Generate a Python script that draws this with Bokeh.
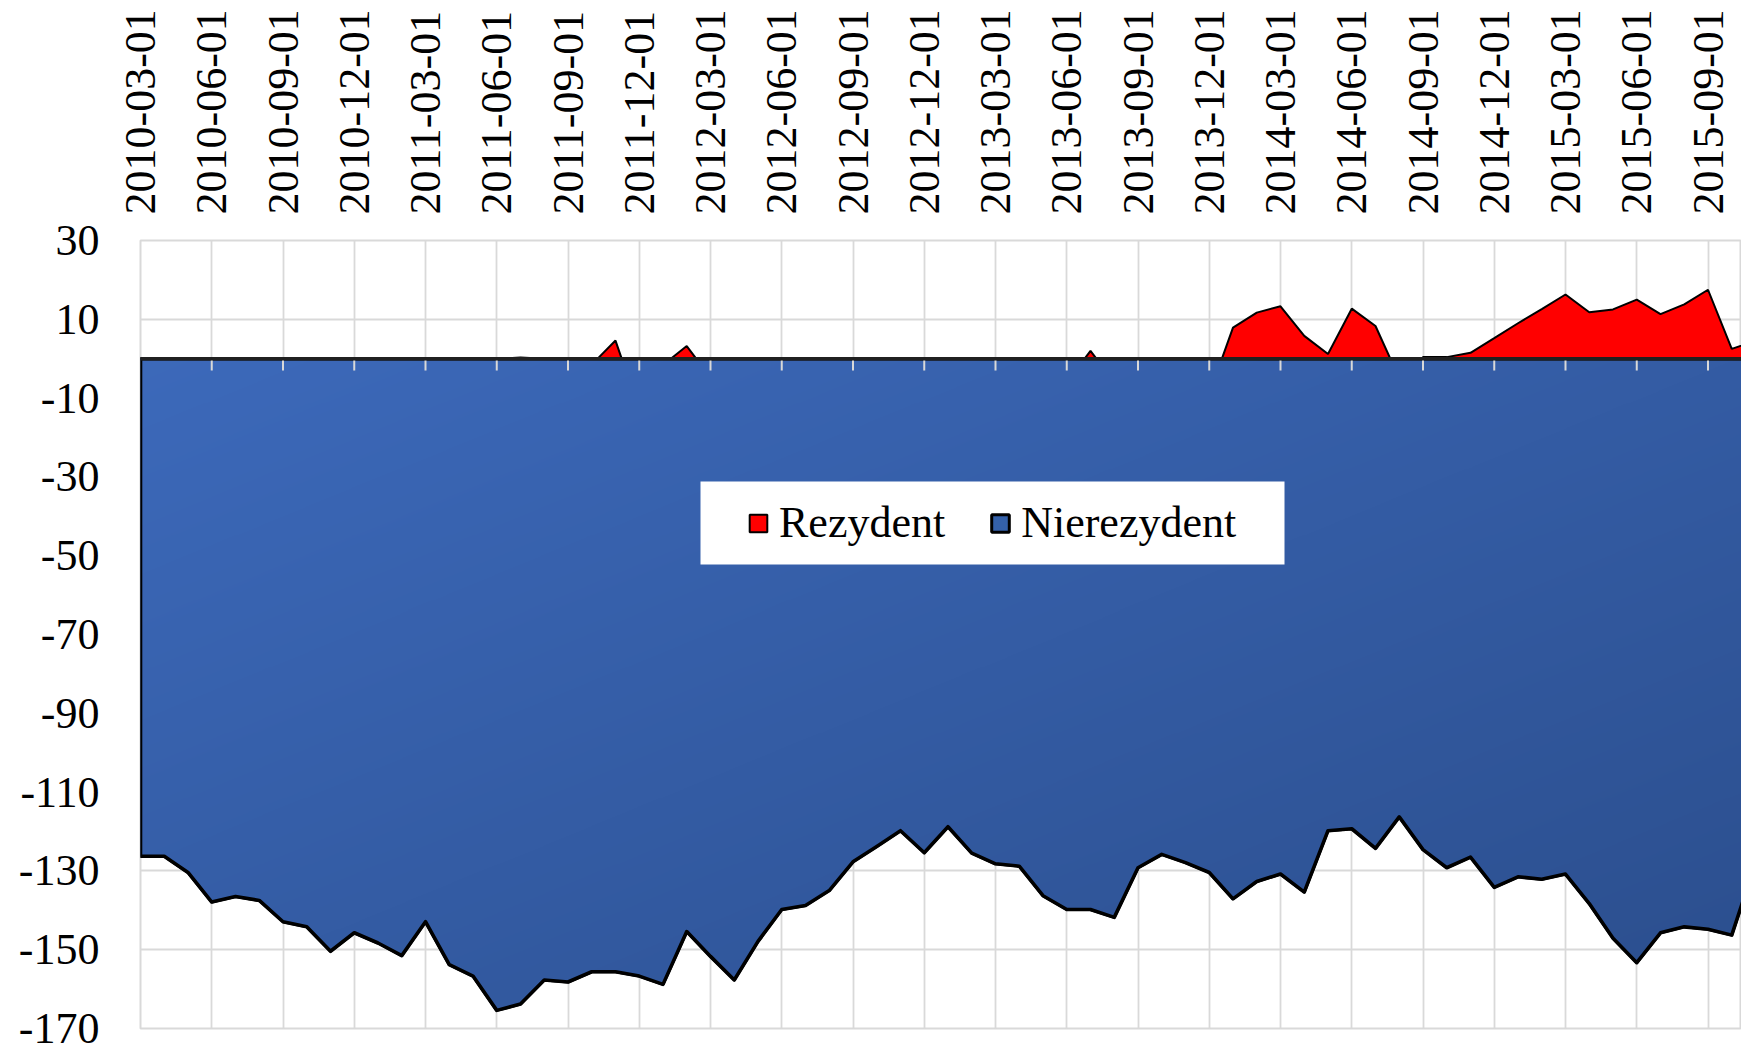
import numpy as np
import pandas as pd
from bokeh.plotting import figure
from bokeh.models import FixedTicker, Legend, LegendItem, Span, Range1d, BoxAnnotation
from bokeh.embed import file_html
from bokeh.resources import INLINE

# ---------------- data ----------------
months = list(pd.date_range("2010-03-01", periods=69, freq="MS").strftime("%Y-%m-%d"))

rezydent = [0, 0, 0, 0, 0, 0, 0, 0, 0, 0,
            0, 0, 0, 0, 0, 0, 0.3, 0, 0, -1.5,
            4.6, -13, -1.6, 3.2, -4.8, 0, 0, 0, 0, 0,
            0, 0, 0, 0, 0, 0, 0, 0, 0, -6,
            2.0, -6, 0, 0, 0, -9, 7.9, 11.7, 13.3, 5.8,
            1.2, 12.7, 8.3, -5, 0.4, 0.4, 1.5, 5.2, 9.0, 12.6,
            16.3, 11.8, 12.5, 15.0, 11.3, 13.8, 17.5, 2.5, 4.5]

nierezydent = [-126.3, -126.3, -130.4, -137.9, -136.5, -137.5, -142.9, -144.2, -150.4, -145.7,
               -148.3, -151.5, -142.9, -153.8, -156.7, -165.4, -163.8, -157.7, -158.2, -155.6,
               -155.6, -156.7, -158.8, -145.4, -151.7, -157.7, -147.9, -139.8, -138.8, -135.0,
               -127.7, -123.8, -119.8, -125.4, -118.8, -125.5, -128.2, -128.8, -136.3, -139.8,
               -139.8, -141.8, -129.2, -125.8, -127.9, -130.4, -137.1, -132.7, -130.8, -135.4,
               -119.8, -119.3, -124.3, -116.3, -124.6, -129.2, -126.5, -134.2, -131.5, -132.1,
               -130.8, -138.3, -147.1, -153.3, -145.7, -144.2, -144.8, -146.3, -128.0]

tick_labels = ["2010-03-01", "2010-06-01", "2010-09-01", "2010-12-01", "2011-03-01",
               "2011-06-01", "2011-09-01", "2011-12-01", "2012-03-01", "2012-06-01",
               "2012-09-01", "2012-12-01", "2013-03-01", "2013-06-01", "2013-09-01",
               "2013-12-01", "2014-03-01", "2014-06-01", "2014-09-01", "2014-12-01",
               "2015-03-01", "2015-06-01", "2015-09-01"]

y_ticks = [-170, -150, -130, -110, -90, -70, -50, -30, -10, 10, 30]

series_names = ["Rezydent", "Nierezydent"]

# ---------------- style ----------------
FONT = "Liberation Serif"
W, H = 1741, 1054
LEFT, TOP, BOTTOM = 140, 240, 26
PX_PER_MONTH = 23.75
RED = "#FF0000"
BLUE_TL = np.array([60, 105, 186])
BLUE_BR = np.array([43, 78, 141])
BLUE_MID = "#3461AA"
GRID = "#d9d9d9"
LEGEND_BOX_PX = (700, 1284, 481, 564)   # left, right, top, bottom (page px)
LEGEND_ANCHOR_PX = (747, 548)           # left / bottom of legend content (page px)

x = np.arange(len(months))
x_last = float(x[-1])
x_end = (W - LEFT) / PX_PER_MONTH
y_min, y_max = y_ticks[0], y_ticks[-1]
frame_h = H - TOP - BOTTOM
px_per_unit = frame_h / (y_max - y_min)
tick_pos = [months.index(t) for t in tick_labels]


def px_to_x(px):
    return (px - LEFT) / PX_PER_MONTH


def py_to_y(py):
    return y_max - (py - TOP) / px_per_unit


p = figure(width=W, height=H, output_backend="svg", toolbar_location=None,
           x_range=Range1d(0, x_end), y_range=Range1d(y_min, y_max),
           x_axis_location="above",
           min_border_left=LEFT, min_border_right=0,
           min_border_top=TOP, min_border_bottom=BOTTOM,
           outline_line_color=GRID, outline_line_width=2,
           background_fill_color="white", border_fill_color="white")

# axes
p.xaxis.ticker = FixedTicker(ticks=tick_pos)
p.xaxis.major_label_overrides = {pos: lab for pos, lab in zip(tick_pos, tick_labels)}
p.xaxis.major_label_orientation = "vertical"
p.yaxis.ticker = FixedTicker(ticks=y_ticks)
p.yaxis.major_label_overrides = {v: str(v) for v in y_ticks}
for ax in (p.xaxis[0], p.yaxis[0]):
    ax.axis_line_color = None
    ax.major_tick_line_color = None
    ax.minor_tick_line_color = None
    ax.major_tick_out = 0
    ax.major_tick_in = 0
    ax.major_label_text_font = FONT
    ax.major_label_text_font_size = "44px"
    ax.major_label_text_color = "black"
p.xaxis.major_label_standoff = 26
p.yaxis.major_label_standoff = 41

p.xgrid.ticker = FixedTicker(ticks=tick_pos)
p.ygrid.ticker = FixedTicker(ticks=y_ticks)
for g in (p.xgrid[0], p.ygrid[0]):
    g.grid_line_color = GRID
    g.grid_line_width = 1.8

# Rezydent area (drawn first, lies beneath)
rx = np.concatenate([[x[0]], x, [x[-1]]])
ry = np.concatenate([[0], rezydent, [0]])
red_r = p.patch(rx, ry, fill_color=RED, line_color="black", line_width=2)

# Nierezydent area: flat base (legend swatch), then gradient fill, then outline
bx = np.concatenate([[x[0]], x, [x[-1]]])
by = np.concatenate([[0], nierezydent, [0]])
blue_r = p.patch(bx, by, fill_color=BLUE_MID, line_color="black", line_width=3)

NX, NY = 1300, 680
xs = (np.arange(NX) + 0.5) * x_last / NX
ys = y_min + (np.arange(NY) + 0.5) * (0 - y_min) / NY
curve = np.interp(xs, x, nierezydent)
inside = ys[:, None] >= curve[None, :]
u = np.clip(xs / x_end, 0, 1)
v = (0 - ys) / (0 - min(nierezydent))
t = np.clip((u[None, :] + v[:, None]) / 2.0, 0, 1)
rgb = BLUE_TL[None, None, :] + (BLUE_BR - BLUE_TL)[None, None, :] * t[:, :, None]
img = np.zeros((NY, NX), dtype=np.uint32)
view = img.view(dtype=np.uint8).reshape((NY, NX, 4))
view[:, :, 0:3] = np.round(rgb).astype(np.uint8)
view[:, :, 3] = np.where(inside, 255, 0).astype(np.uint8)
p.image_rgba(image=[img], x=0, y=y_min, dw=x_last, dh=0 - y_min)

p.patch(bx, by, fill_alpha=0, line_color="black", line_width=3.6, line_join="round")

# category axis at zero with its short tick marks
TICK_LEN = 3
p.segment(x0=tick_pos[1:], y0=0, x1=tick_pos[1:], y1=-TICK_LEN,
          line_color=GRID, line_width=2)
p.add_layout(Span(location=0, dimension="width", line_color="#202020", line_width=3.5))

# legend box
bl, br, bt, bb = LEGEND_BOX_PX
p.add_layout(BoxAnnotation(left=px_to_x(bl), right=px_to_x(br),
                           top=py_to_y(bt), bottom=py_to_y(bb),
                           fill_color="white", fill_alpha=1.0, line_color=None))

legend = Legend(items=[LegendItem(label=series_names[0], renderers=[red_r]),
                       LegendItem(label=series_names[1], renderers=[blue_r])],
                location=(LEGEND_ANCHOR_PX[0] - LEFT, (TOP + frame_h) - LEGEND_ANCHOR_PX[1]),
                orientation="horizontal",
                label_text_font=FONT, label_text_font_size="44px",
                label_text_color="black",
                glyph_width=22, glyph_height=22, label_standoff=10,
                spacing=44, padding=0, margin=0,
                background_fill_alpha=0.0, border_line_color=None)
p.add_layout(legend)

open("out.html", "w").write(file_html(p, INLINE))
